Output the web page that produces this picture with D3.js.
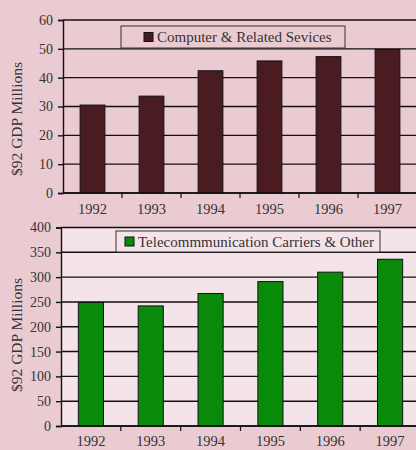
<!DOCTYPE html>
<html>
<head>
<meta charset="utf-8">
<script src="https://cdn.jsdelivr.net/npm/d3@7"></script>
<style>
  html, body { margin: 0; padding: 0; background: #ebcbd2; }
  svg { display: block; }
  svg text { font-family: "Liberation Serif", "Times New Roman", serif !important; fill: #333; }
</style>
</head>
<body>
<svg id="chart" width="416" height="450"></svg>
<script>
// Annual real GDP, 1992 dollars (millions)
const years = ["1992", "1993", "1994", "1995", "1996", "1997"];
const computerServices = [30.5, 33.6, 42.4, 45.8, 47.3, 49.8];
const telecomCarriers = [249, 242, 267, 291, 310, 336];
const computerTicks = [0, 10, 20, 30, 40, 50, 60];
const telecomTicks = [0, 50, 100, 150, 200, 250, 300, 350, 400];
const computerLabel = "Computer & Related Sevices";
const telecomLabel = "Telecommmunication Carriers & Other";
const yTitle = "$92 GDP Millions";

const svg = d3.select("#chart");

function panel(cfg) {
  const g = svg.append("g");
  const x = d3.scaleBand().domain(years).range([cfg.x0, cfg.x1]).paddingInner(0.58).paddingOuter(0.29);
  const y = d3.scaleLinear().domain([0, cfg.ticks[cfg.ticks.length - 1]]).range([cfg.y0, cfg.y1]);

  // plot area background
  g.append("rect")
    .attr("x", cfg.x0).attr("y", cfg.y1)
    .attr("width", cfg.x1 - cfg.x0).attr("height", cfg.y0 - cfg.y1)
    .attr("fill", cfg.plotBg);

  // horizontal gridlines
  g.selectAll(".grid").data(cfg.ticks).join("line")
    .attr("x1", cfg.x0).attr("x2", cfg.x1)
    .attr("y1", d => y(d)).attr("y2", d => y(d))
    .attr("stroke", "#111").attr("stroke-width", 1.4);

  // legend
  const lg = g.append("g");
  lg.append("rect")
    .attr("x", cfg.legend.x).attr("y", cfg.legend.y)
    .attr("width", cfg.legend.w).attr("height", cfg.legend.h)
    .attr("fill", cfg.plotBg).attr("stroke", "#333").attr("stroke-width", 1);
  lg.append("rect")
    .attr("x", cfg.legend.x + cfg.legend.sq).attr("y", cfg.legend.y + cfg.legend.h / 2 - 4.5)
    .attr("width", 9).attr("height", 9)
    .attr("fill", cfg.color).attr("stroke", "#111");
  lg.append("text")
    .attr("x", cfg.legend.x + cfg.legend.sq + 13).attr("y", cfg.legend.y + cfg.legend.h / 2 + 5)
    .style("font-size", cfg.legend.fs + "px").text(cfg.label);

  // bars
  g.selectAll(".bar").data(cfg.values).join("rect")
    .attr("x", (d, i) => x(years[i]))
    .attr("y", d => y(d))
    .attr("width", x.bandwidth())
    .attr("height", d => y(0) - y(d))
    .attr("fill", cfg.color).attr("stroke", "#111").attr("stroke-width", 1);

  // y axis
  const ya = g.append("g").attr("transform", `translate(${cfg.x0},0)`)
    .call(d3.axisLeft(y).tickValues(cfg.ticks).tickSize(5).tickPadding(5).tickFormat(d3.format("d")));
  ya.select(".domain").attr("stroke", "#111").attr("stroke-width", 1.4);
  ya.selectAll(".tick line").attr("stroke", "#111").attr("stroke-width", 1.4);
  ya.selectAll("text").style("font-size", "14px");

  // x axis with ticks at category boundaries
  g.append("line").attr("x1", cfg.x0).attr("x2", cfg.x1).attr("y1", y(0)).attr("y2", y(0))
    .attr("stroke", "#111").attr("stroke-width", 1.4);
  const gap = x.step() - x.bandwidth();
  g.selectAll(".xt").data(years.slice(1)).join("line")
    .attr("x1", d => x(d) - gap / 2)
    .attr("x2", d => x(d) - gap / 2)
    .attr("y1", y(0)).attr("y2", y(0) + 5)
    .attr("stroke", "#111").attr("stroke-width", 1.2);
  g.selectAll(".xl").data(years).join("text")
    .attr("x", d => x(d) + x.bandwidth() / 2)
    .attr("y", y(0) + cfg.labelDy)
    .attr("text-anchor", "middle").style("font-size", "14.5px")
    .text(d => d);

  // y axis title
  g.append("text")
    .attr("transform", `translate(${cfg.titleX},${cfg.titleY}) rotate(-90)`)
    .attr("text-anchor", "middle").style("font-size", "15.5px")
    .text(yTitle);
}

panel({
  x0: 63, x1: 417, y0: 193, y1: 20,
  ticks: computerTicks, values: computerServices,
  color: "#4a1c22", plotBg: "#ebcbd2",
  label: computerLabel,
  legend: { x: 121, y: 26, w: 224, h: 22, sq: 23, fs: 15 },
  labelDy: 21, titleX: 22, titleY: 119
});

panel({
  x0: 61, x1: 420, y0: 426, y1: 227.5,
  ticks: telecomTicks, values: telecomCarriers,
  color: "#0a8a0a", plotBg: "#f4e4ea",
  label: telecomLabel,
  legend: { x: 116, y: 231, w: 264, h: 21, sq: 9, fs: 15 },
  labelDy: 19.5, titleX: 22, titleY: 335
});
</script>
</body>
</html>
